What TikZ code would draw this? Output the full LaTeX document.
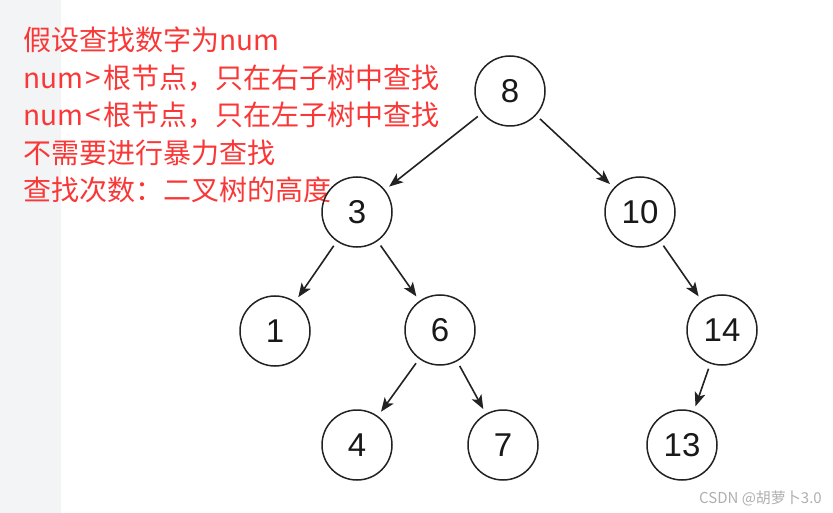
\documentclass[tikz,border=0pt]{standalone}
\usepackage{fontspec}
\setmainfont{Liberation Sans}
\newfontfamily\cjk{Noto Sans CJK SC}
\usetikzlibrary{arrows.meta}
\definecolor{txtred}{RGB}{250,55,55}
\definecolor{strip}{RGB}{243,244,246}
\definecolor{edgec}{RGB}{34,34,34}
\definecolor{wmark}{RGB}{175,175,175}
\begin{document}
\begin{tikzpicture}[x=1pt,y=-1pt,
  tnode/.style={circle,draw=edgec,line width=1.5pt,minimum size=70pt,inner sep=0pt,outer sep=6pt,
    font=\fontsize{33}{33}\selectfont,text=black!90},
  link/.style={draw=edgec,line width=1.6pt,-{Stealth[length=14pt,width=11pt,inset=3.5pt]}},
  note/.style={anchor=base west,inner sep=0pt,text=txtred,font=\cjk\fontsize{28}{28}\selectfont}]
\useasboundingbox (0,0) rectangle (833,513);
\fill[strip] (0,0) rectangle (61,513);

% explanatory text
\node[note] (t1) at (23,51) {假设查找数字为num};
\node[note] (t2) at (23,88.5) {num\kern2.5pt>\kern2.5pt根节点，只在右子树中查找};
\node[note] (t3) at (23,126) {num\kern2.5pt<\kern2.5pt根节点，只在左子树中查找};
\node[note] (t4) at (23,163.5) {不需要进行暴力查找};
\node[note] (t5) at (23,201) {查找次数：二叉树的高度};

% tree nodes
\node[tnode] (n8)  at (510,91)  {8};
\node[tnode] (n3)  at (357,212) {3};
\node[tnode] (n10) at (640,212) {10};
\node[tnode] (n1)  at (275,331) {1};
\node[tnode] (n6)  at (440,330) {6};
\node[tnode] (n14) at (722,330) {14};
\node[tnode] (n4)  at (357,445) {4};
\node[tnode] (n7)  at (503,445) {7};
\node[tnode] (n13) at (682,445) {13};

% connectors
\draw[link] (n8) -- (n3);
\draw[link] (n8) -- (n10);
\draw[link] (n3) -- (n1);
\draw[link] (n3) -- (n6);
\draw[link] (n10) -- (n14);
\draw[link] (n6) -- (n4);
\draw[link] (n6) -- (n7);
\draw[link] (n14) -- (n13);

% watermark
\node[anchor=east,inner sep=0pt,text=wmark,font=\cjk\fontsize{15}{15}\selectfont] (wm) at (822,498) {CSDN @胡萝卜3.0};
\end{tikzpicture}
\end{document}
